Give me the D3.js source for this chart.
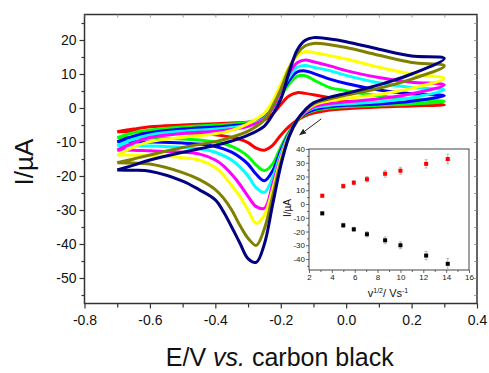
<!DOCTYPE html>
<html>
<head>
<meta charset="utf-8">
<script src="https://cdn.jsdelivr.net/npm/d3@7"></script>
<style>
  body { margin: 0; background: #fff; }
  svg { font-family: "Liberation Sans", Arial, sans-serif; }
</style>
</head>
<body>
<div id="chart"></div>
<script>
// potential grids (V) for the forward (anodic) and reverse (cathodic) sweeps
var fwdE = [-0.7, -0.65, -0.6, -0.5, -0.4, -0.35, -0.3, -0.25, -0.225, -0.2, -0.175, -0.15, -0.125, -0.1, -0.05, 0, 0.1, 0.2, 0.3];
var revE = [0.3, 0.2, 0.1, 0, -0.05, -0.1, -0.125, -0.15, -0.175, -0.2, -0.225, -0.25, -0.275, -0.3, -0.325, -0.35, -0.375, -0.4, -0.45, -0.5, -0.6, -0.65, -0.7];

var colors = ["#ff0000", "#00ff00", "#0000ff", "#00ffff", "#ff00ff", "#ffff00", "#808000", "#000080"];

// current (uA), one array per scan rate
var fwdI = [
  [-7.0, -6.2, -5.5, -5.0, -4.6, -4.4, -4.2, -3.5, -1.8, 1.0, 3.5, 4.5, 4.3, 3.9, 3.0, 2.0, 1.3, 1.0, 0.9],
  [-8.7, -7.3, -6.5, -5.6, -5.0, -4.7, -4.2, -2.5, 0.0, 3.5, 7.0, 9.3, 9.5, 8.3, 6.0, 5.1, 3.6, 2.6, 1.9],
  [-9.9, -8.3, -7.3, -6.2, -5.6, -5.2, -4.6, -2.8, 0.0, 4.0, 8.0, 10.6, 10.9, 10.2, 8.5, 7.2, 5.3, 4.2, 3.6],
  [-11.1, -9.2, -7.9, -6.8, -6.2, -5.7, -5.0, -3.0, 0.0, 4.5, 9.0, 12.0, 12.5, 12.0, 11.0, 9.6, 7.4, 6.0, 5.3],
  [-12.4, -10.3, -8.7, -7.5, -6.8, -6.3, -5.4, -3.2, 0.0, 5.0, 10.0, 13.3, 14.1, 13.6, 12.4, 11.0, 9.0, 7.6, 6.8],
  [-13.8, -11.5, -9.9, -8.6, -7.6, -6.6, -4.6, -1.5, 2.0, 7.0, 12.0, 15.3, 16.6, 16.3, 15.4, 14.4, 12.0, 10.0, 8.7],
  [-16.1, -15.0, -13.8, -11.6, -9.9, -8.6, -6.8, -3.5, 0.5, 5.5, 11.5, 16.0, 18.3, 19.0, 18.6, 17.8, 15.5, 13.4, 12.4],
  [-18.2, -16.8, -15.3, -13.0, -11.0, -9.7, -8.0, -5.3, -2.0, 2.5, 10.3, 17.0, 19.9, 20.7, 20.3, 19.5, 17.3, 15.3, 14.6]
];
var revI = [
  [0.9, 0.6, 0.3, -0.2, -0.6, -1.5, -2.3, -3.6, -5.5, -8.0, -11.0, -12.4, -11.8, -10.2, -9.2, -8.6, -8.2, -7.9, -7.5, -7.3, -7.1, -7.0, -7.0],
  [1.9, 1.2, 0.8, 0.4, 0.0, -0.8, -1.8, -3.8, -7.0, -11.5, -16.5, -18.4, -16.8, -14.2, -12.5, -11.3, -10.5, -10.0, -9.4, -9.1, -8.8, -8.7, -8.7],
  [3.6, 2.0, 1.2, 0.8, 0.4, -0.5, -1.6, -3.8, -7.5, -12.5, -18.5, -21.4, -19.5, -16.5, -14.5, -13.0, -12.0, -11.3, -10.6, -10.3, -10.0, -9.9, -9.9],
  [5.3, 3.0, 1.8, 1.2, 0.8, 0.0, -1.3, -3.8, -7.8, -13.5, -20.5, -24.8, -23.5, -20.0, -17.3, -15.3, -14.0, -13.0, -12.0, -11.6, -11.2, -11.1, -11.1],
  [6.8, 4.2, 2.7, 1.8, 1.3, 0.3, -1.1, -3.8, -8.0, -14.5, -22.5, -29.5, -29.0, -26.0, -22.5, -19.5, -17.0, -15.3, -13.5, -13.0, -12.6, -12.4, -12.4],
  [8.7, 5.8, 4.0, 2.8, 2.1, 0.8, -0.9, -3.8, -8.2, -15.0, -24.0, -31.5, -33.9, -30.0, -26.0, -22.8, -19.8, -17.5, -15.3, -14.6, -14.0, -13.9, -13.8],
  [12.4, 8.5, 5.8, 3.8, 2.7, 1.2, -0.8, -3.8, -8.5, -16.0, -26.0, -35.5, -40.4, -38.3, -34.5, -30.0, -26.5, -24.0, -21.0, -19.0, -16.5, -16.2, -16.1],
  [14.6, 10.0, 6.8, 4.3, 3.2, 1.5, -0.5, -3.5, -8.5, -17.0, -28.5, -40.0, -45.4, -44.3, -39.7, -35.0, -30.5, -27.0, -24.0, -21.5, -18.6, -18.3, -18.2]
];

// inset: peak currents vs square root of scan rate
var sqrtV = [3.16, 5.0, 5.92, 7.07, 8.66, 10.0, 12.25, 14.14];
var ipa = [6, 13, 15.5, 18, 22, 24.2, 29.2, 32.7];
var ipaErr = [1, 1.5, 1.5, 2, 2.5, 2.5, 3, 3.5];
var ipc = [-6.8, -15.5, -18.4, -22, -26.4, -30, -37.5, -43.5];
var ipcErr = [1, 1.5, 1.5, 2, 2.5, 2.5, 3, 4];

var xTicks = [-0.8, -0.6, -0.4, -0.2, 0.0, 0.2, 0.4];
var yTicks = [20, 10, 0, -10, -20, -30, -40, -50];
var insetXTicks = [2, 4, 6, 8, 10, 12, 14, 16];
var insetYTicks = [40, 30, 20, 10, 0, -10, -20, -30, -40];

// arrow annotation, data coords [E, I]
var arrowFrom = [-0.076, -3.2];
var arrowTo = [-0.142, -7.9];

var width = 489, height = 373;
var svg = d3.select("#chart").append("svg")
    .attr("width", width).attr("height", height);

var x = d3.scaleLinear().domain([-0.8, 0.4]).range([84.5, 477]);
var y = d3.scaleLinear().domain([-57.5, 27.5]).range([303.5, 14.5]);

// plain hyphen instead of the unicode minus d3 uses
function hy(fmt) {
    return function(d) { return fmt(d).replace("\u2212", "-"); };
}

// curves
var line = d3.line()
    .x(function(d) { return x(d[0]); })
    .y(function(d) { return y(d[1]); })
    .curve(d3.curveCatmullRom.alpha(0.5));

var g = svg.append("g");
for (let k = 0; k < colors.length; k++) {
    var pts = fwdE.map(function(e, i) { return [e, fwdI[k][i]]; })
        .concat(revE.slice(1).map(function(e, i) { return [e, revI[k][i + 1]]; }));
    g.append("path")
        .attr("d", line(pts))
        .attr("fill", "none")
        .attr("stroke", colors[k])
        .attr("stroke-width", 3)
        .attr("stroke-linejoin", "round");
}

// frame
svg.append("rect")
    .attr("x", x.range()[0]).attr("y", y.range()[1])
    .attr("width", x.range()[1] - x.range()[0])
    .attr("height", y.range()[0] - y.range()[1])
    .attr("fill", "none").attr("stroke", "#333").attr("stroke-width", 1.5);

// axes
var xAxis = d3.axisBottom(x).tickValues(xTicks).tickFormat(hy(d3.format(".1f"))).tickSize(5).tickSizeOuter(0);
var xMinor = d3.axisBottom(x).tickValues(d3.range(-0.7, 0.4, 0.2)).tickFormat("").tickSize(4).tickSizeOuter(0);
var yAxis = d3.axisLeft(y).tickValues(yTicks).tickFormat(hy(d3.format("d"))).tickSize(5).tickSizeOuter(0);
var yMinor = d3.axisLeft(y).tickValues(d3.range(-55, 26, 10)).tickFormat("").tickSize(3).tickSizeOuter(0);

function styleAxis(sel, fs) {
    sel.select(".domain").remove();
    sel.selectAll("line").attr("stroke", "#333").attr("stroke-width", 1.2);
    sel.selectAll("text").attr("fill", "#111").style("font-size", fs + "px")
        .style("font-family", "Liberation Sans, Arial, sans-serif");
}

svg.append("g").attr("transform", "translate(0," + y.range()[0] + ")").call(xAxis)
    .call(styleAxis, 14).selectAll("text").attr("dy", "0.95em");
svg.append("g").attr("transform", "translate(0," + y.range()[0] + ")").call(xMinor).call(styleAxis, 14);
svg.append("g").attr("transform", "translate(" + x.range()[0] + ",0)").call(yAxis)
    .call(styleAxis, 14).selectAll("text").attr("x", -8);
svg.append("g").attr("transform", "translate(" + x.range()[0] + ",0)").call(yMinor).call(styleAxis, 14);

// mirror ticks inside top and right edges
svg.append("g").attr("transform", "translate(0," + y.range()[1] + ")")
    .call(d3.axisBottom(x).tickValues(d3.range(-0.8, 0.41, 0.1)).tickFormat("").tickSize(3).tickSizeOuter(0))
    .call(styleAxis, 10).selectAll("line").attr("stroke", "#888").attr("stroke-width", 0.8);
svg.append("g").attr("transform", "translate(" + x.range()[1] + ",0)")
    .call(d3.axisLeft(y).tickValues(d3.range(-55, 26, 5)).tickFormat("").tickSize(3).tickSizeOuter(0))
    .call(styleAxis, 10).selectAll("line").attr("stroke", "#888").attr("stroke-width", 0.8);

// axis titles
var xt = svg.append("text")
    .attr("x", (x.range()[0] + x.range()[1]) / 2 - 1).attr("y", 366)
    .attr("text-anchor", "middle").style("font-size", "25px").attr("fill", "#111");
xt.append("tspan").text("E/V ");
xt.append("tspan").style("font-style", "italic").text(" vs.");
xt.append("tspan").text(" carbon black");

svg.append("text")
    .attr("transform", "translate(33,162) rotate(-90)")
    .attr("text-anchor", "middle").style("font-size", "26px").attr("fill", "#111")
    .text("I/\u00b5A");

// arrow
svg.append("defs").append("marker")
    .attr("id", "ah").attr("viewBox", "0 0 10 10").attr("refX", 9).attr("refY", 5)
    .attr("markerWidth", 7).attr("markerHeight", 7).attr("orient", "auto")
    .append("path").attr("d", "M0,1L10,5L0,9Z").attr("fill", "#222");
svg.append("line")
    .attr("x1", x(arrowFrom[0])).attr("y1", y(arrowFrom[1]))
    .attr("x2", x(arrowTo[0])).attr("y2", y(arrowTo[1]))
    .attr("stroke", "#222").attr("stroke-width", 1).attr("marker-end", "url(#ah)");

// ---------------- inset ----------------
var ix = d3.scaleLinear().domain([2, 16]).range([309, 469]);
var iy = d3.scaleLinear().domain([-48, 40]).range([270, 149]);

var inset = svg.append("g");
inset.append("rect")
    .attr("x", ix.range()[0]).attr("y", iy.range()[1])
    .attr("width", ix.range()[1] - ix.range()[0])
    .attr("height", iy.range()[0] - iy.range()[1])
    .attr("fill", "#fff").attr("stroke", "#444").attr("stroke-width", 1);

function styleInset(sel) {
    sel.select(".domain").remove();
    sel.selectAll("line").attr("stroke", "#444").attr("stroke-width", 0.8);
    sel.selectAll("text").attr("fill", "#222").style("font-size", "8px");
}
inset.append("g").attr("transform", "translate(0," + iy.range()[0] + ")")
    .call(d3.axisBottom(ix).tickValues(insetXTicks).tickSize(3).tickPadding(1).tickSizeOuter(0)).call(styleInset);
inset.append("g").attr("transform", "translate(0," + iy.range()[0] + ")")
    .call(d3.axisBottom(ix).tickValues(d3.range(3, 16, 2)).tickFormat("").tickSize(2).tickSizeOuter(0)).call(styleInset);
inset.append("g").attr("transform", "translate(" + ix.range()[0] + ",0)")
    .call(d3.axisLeft(iy).tickValues(insetYTicks).tickFormat(hy(d3.format("d"))).tickSize(3).tickPadding(1).tickSizeOuter(0)).call(styleInset);
inset.append("g").attr("transform", "translate(" + ix.range()[0] + ",0)")
    .call(d3.axisLeft(iy).tickValues(d3.range(-45, 40, 10)).tickFormat("").tickSize(2).tickSizeOuter(0)).call(styleInset);

function drawSeries(vals, errs, color) {
    sqrtV.forEach(function(v, i) {
        var cx = ix(v);
        inset.append("line").attr("x1", cx).attr("x2", cx)
            .attr("y1", iy(vals[i] - errs[i])).attr("y2", iy(vals[i] + errs[i]))
            .attr("stroke", "#aaa").attr("stroke-width", 0.8);
        [vals[i] - errs[i], vals[i] + errs[i]].forEach(function(e) {
            inset.append("line").attr("x1", cx - 1.5).attr("x2", cx + 1.5)
                .attr("y1", iy(e)).attr("y2", iy(e))
                .attr("stroke", "#aaa").attr("stroke-width", 0.8);
        });
        inset.append("rect").attr("x", cx - 2).attr("y", iy(vals[i]) - 2)
            .attr("width", 4).attr("height", 4).attr("fill", color);
    });
}
drawSeries(ipa, ipaErr, "#ff0000");
drawSeries(ipc, ipcErr, "#000000");

var ixt = inset.append("text")
    .attr("x", (ix.range()[0] + ix.range()[1]) / 2 - 1).attr("y", 297)
    .attr("text-anchor", "middle").style("font-size", "11px").attr("fill", "#111");
ixt.append("tspan").text("v");
ixt.append("tspan").attr("dy", -4).style("font-size", "7px").text("1/2");
ixt.append("tspan").attr("dy", 4).text("/ Vs");
ixt.append("tspan").attr("dy", -4).style("font-size", "7px").text("-1");

inset.append("text")
    .attr("transform", "translate(291,208) rotate(-90)")
    .attr("text-anchor", "middle").style("font-size", "10px").attr("fill", "#111")
    .text("I/\u00b5A");
</script>
</body>
</html>
